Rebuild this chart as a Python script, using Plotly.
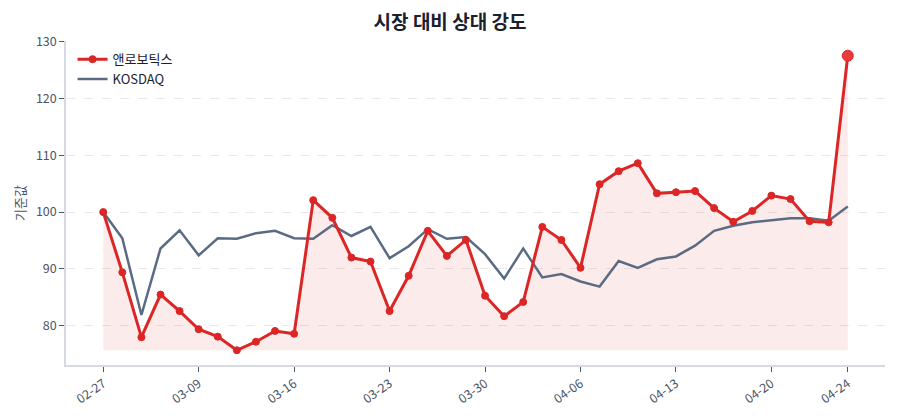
import plotly.graph_objects as go

dates = ["02-27", "03-03", "03-04", "03-05", "03-06",
         "03-09", "03-10", "03-11", "03-12", "03-13",
         "03-16", "03-17", "03-18", "03-19", "03-20",
         "03-23", "03-24", "03-25", "03-26", "03-27",
         "03-30", "03-31", "04-01", "04-02", "04-03",
         "04-06", "04-07", "04-08", "04-09", "04-10",
         "04-13", "04-14", "04-15", "04-16", "04-17",
         "04-20", "04-21", "04-22", "04-23", "04-24"]

stock = [100.0, 89.4, 78.0, 85.5, 82.6, 79.4, 78.1, 75.7, 77.2, 79.1,
         78.6, 102.1, 99.0, 92.0, 91.3, 82.6, 88.8, 96.7, 92.3, 95.1,
         85.3, 81.7, 84.2, 97.4, 95.1, 90.2, 104.9, 107.2, 108.6, 103.3,
         103.5, 103.7, 100.7, 98.3, 100.2, 102.9, 102.3, 98.4, 98.2, 127.5]

kosdaq = [100.0, 95.4, 81.9, 93.6, 96.8, 92.4, 95.4, 95.3, 96.3, 96.7,
          95.4, 95.3, 97.7, 95.8, 97.4, 91.9, 94.0, 97.0, 95.3, 95.6,
          92.6, 88.3, 93.6, 88.5, 89.1, 87.8, 86.9, 91.4, 90.2, 91.7,
          92.2, 94.1, 96.7, 97.6, 98.2, 98.6, 98.9, 98.9, 98.5, 101.0]

tick_labels = ["02-27", "03-09", "03-16", "03-23", "03-30", "04-06", "04-13", "04-20", "04-24"]

stock_name = "앤로보틱스"
index_name = "KOSDAQ"
title_text = "시장 대비 상대 강도"
y_title = "기준값"

RED = "#dc2626"
SLATE = "#5b6b84"
FONT = "Noto Sans CJK KR"

base = min(stock)
n = len(dates)
ymin, ymax = min(min(stock), min(kosdaq)), max(max(stock), max(kosdaq))
pad = (ymax - ymin) * 0.05

fig = go.Figure()

# baseline for fill
fig.add_trace(go.Scatter(
    x=dates, y=[base] * n, mode="lines", line=dict(width=0, color="rgba(0,0,0,0)"),
    showlegend=False, hoverinfo="skip"))

fig.add_trace(go.Scatter(
    x=dates, y=stock, mode="lines", line=dict(width=0, color="rgba(0,0,0,0)"),
    fill="tonexty", fillcolor="rgba(220,38,38,0.09)",
    showlegend=False, hoverinfo="skip"))

fig.add_trace(go.Scatter(
    x=dates, y=kosdaq, mode="lines", name=index_name,
    line=dict(color=SLATE, width=2.5)))

sizes = [7] * (n - 1) + [11]
colors = [RED] * (n - 1) + ["#e83a3a"]
fig.add_trace(go.Scatter(
    x=dates, y=stock, mode="lines+markers", name=stock_name,
    line=dict(color=RED, width=3),
    marker=dict(size=sizes, color=colors, opacity=1)))

fig.update_layout(
    width=900, height=420,
    margin=dict(l=66, r=15, t=41, b=55),
    paper_bgcolor="white", plot_bgcolor="white",
    font=dict(family=FONT, size=12, color="#4a5568"),
    title=dict(text=f"<b>{title_text}</b>", x=0.5, xanchor="center", y=0.947, yanchor="middle",
               font=dict(family=FONT, size=19, color="#1a202c")),
    legend=dict(x=0.008, y=0.99, xanchor="left", yanchor="top", bgcolor="rgba(255,255,255,0)",
                font=dict(family=FONT, size=13, color="#1a202c"), traceorder="reversed",
                itemwidth=30, tracegroupgap=0),
    showlegend=True,
)

fig.update_xaxes(
    type="category", categoryorder="array", categoryarray=dates,
    range=[-1.95, n - 1 + 1.95],
    tickmode="array", tickvals=tick_labels, ticktext=tick_labels,
    tickangle=-35, ticks="outside", ticklen=5, tickcolor="#4a5568",
    showline=True, linecolor="#d5d9e0", linewidth=1.5,
    showgrid=False, zeroline=False,
    tickfont=dict(family=FONT, size=12.5, color="#4a5568"))

fig.update_yaxes(
    range=[ymin - pad, ymax + pad],
    tickmode="array", tickvals=[80, 90, 100, 110, 120, 130],
    ticks="outside", ticklen=5, tickcolor="#4a5568",
    showline=True, linecolor="#d5d9e0", linewidth=1.5,
    showgrid=True, gridcolor="#e8e8e8", griddash="dash", gridwidth=1,
    zeroline=False,
    title=dict(text=y_title, font=dict(family=FONT, size=13, color="#4a5568"), standoff=7),
    tickfont=dict(family=FONT, size=12.5, color="#4a5568"))

fig.write_html("out.html")
